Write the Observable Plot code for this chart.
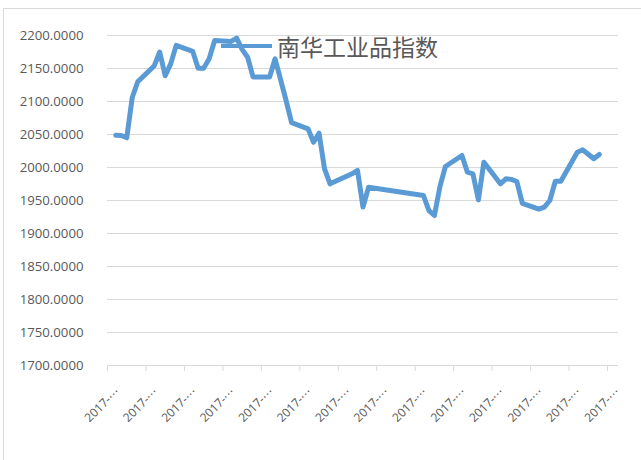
<!DOCTYPE html>
<html>
<head>
<meta charset="utf-8">
<script src="https://cdn.jsdelivr.net/npm/d3@7"></script>
<script src="https://cdn.jsdelivr.net/npm/@observablehq/plot@0.6"></script>
<style>
  html, body { margin: 0; padding: 0; background: #fff; }
  #wrap { position: relative; width: 641px; height: 460px; overflow: hidden; }
  #frame { position: absolute; left: 3px; top: 8px; width: 700px; height: 500px;
           border-top: 1px solid #d9d9d9; border-left: 1px solid #d9d9d9; box-sizing: border-box; }
  #chart { position: absolute; left: 0; top: 0; }
  #legend { position: absolute; left: 221px; top: 31px; height: 30px; display: flex; align-items: center;
            font-family: "Noto Sans CJK SC", sans-serif; font-size: 23px; color: #595959; line-height: 30px; }
  #legend .sw { display: inline-block; width: 51px; height: 4.5px; background: #5B9BD5; margin-right: 5px; }
</style>
</head>
<body>
<div id="wrap">
  <div id="frame"></div>
  <div id="chart"></div>
  <div id="legend"><span class="sw"></span><span id="legendText"></span></div>
</div>
<script>
// ---- data ----
const seriesName = "南华工业品指数";
const dates = ["2017-08-14","2017-08-15","2017-08-16","2017-08-17","2017-08-18",
  "2017-08-21","2017-08-22","2017-08-23","2017-08-24","2017-08-25",
  "2017-08-28","2017-08-29","2017-08-30","2017-08-31","2017-09-01",
  "2017-09-04","2017-09-05","2017-09-06","2017-09-07","2017-09-08",
  "2017-09-11","2017-09-12","2017-09-13","2017-09-14","2017-09-15",
  "2017-09-18","2017-09-19","2017-09-20","2017-09-21","2017-09-22",
  "2017-09-25","2017-09-26","2017-09-27","2017-09-28","2017-09-29",
  "2017-10-09","2017-10-10","2017-10-11","2017-10-12","2017-10-13",
  "2017-10-16","2017-10-17","2017-10-18","2017-10-19","2017-10-20",
  "2017-10-23","2017-10-24","2017-10-25","2017-10-26","2017-10-27",
  "2017-10-30","2017-10-31","2017-11-01","2017-11-02","2017-11-03",
  "2017-11-06","2017-11-07","2017-11-08","2017-11-09","2017-11-10"];
const values = [2049, 2048.5, 2045, 2106, 2130,
  2154, 2175, 2139, 2157, 2185,
  2176, 2150.5, 2150.5, 2164.7, 2192.4,
  2191, 2196, 2179, 2167, 2137,
  2137, 2164.7, 2133, 2101.5, 2068,
  2058.6, 2038.3, 2052, 1998, 1975.3,
  1986.8, 1990.5, 1995.5, 1940, 1970,
  1957.6, 1934.8, 1927.3, 1971, 2001.5,
  2018.2, 1993, 1990.5, 1951, 2008,
  1975.3, 1982.9, 1982, 1978.8, 1945.5,
  1937, 1940, 1950, 1979.2, 1979.2,
  2023.2, 2026.8, 2020, 2013.2, 2019.7];
const xDomain = ["2017-08-13", "2017-11-14"];
const xTicks = ["2017-08-13","2017-08-20","2017-08-27","2017-09-03","2017-09-10",
  "2017-09-17","2017-09-24","2017-10-01","2017-10-08","2017-10-15",
  "2017-10-22","2017-10-29","2017-11-05","2017-11-12"];
const xTickLabel = "2017-⋯";
const yTicks = [1700, 1750, 1800, 1850, 1900, 1950, 2000, 2050, 2100, 2150, 2200];

// ---- build ----
const day = s => new Date(s + "T00:00:00Z");
const data = dates.map((d, i) => ({date: new Date(d + "T12:00:00Z"), value: values[i]}));

const chart = Plot.plot({
  width: 641,
  height: 460,
  marginLeft: 107,
  marginRight: 23,
  marginTop: 35,
  marginBottom: 95,
  style: {fontFamily: "'Open Sans', sans-serif", background: "transparent", overflow: "visible"},
  x: {type: "utc", domain: xDomain.map(day)},
  y: {domain: [1700, 2200]},
  marks: [
    Plot.gridY(yTicks, {stroke: "#d9d9d9", strokeOpacity: 1, strokeWidth: 1}),
    Plot.axisY(yTicks, {tickSize: 0, tickPadding: 24, tickFormat: d3.format(".4f"),
      fill: "#595959", fontSize: 13.2, label: null}),
    // tick marks only
    Plot.axisX(xTicks.map(day), {tickSize: 6, stroke: "#d9d9d9", strokeOpacity: 1,
      tickFormat: () => "", label: null}),
    // rotated tick labels only
    Plot.axisX(xTicks.map(day), {tickSize: 0, tickFormat: () => xTickLabel, tickRotate: -45,
      tickPadding: 12, dx: 10, dy: 12, fill: "#595959", fontSize: 12, label: null}),
    Plot.line(data, {x: "date", y: "value", stroke: "#5B9BD5", strokeWidth: 5,
      strokeLinejoin: "round", strokeLinecap: "round"})
  ]
});
document.getElementById("chart").appendChild(chart);
document.getElementById("legendText").textContent = seriesName;
</script>
</body>
</html>
